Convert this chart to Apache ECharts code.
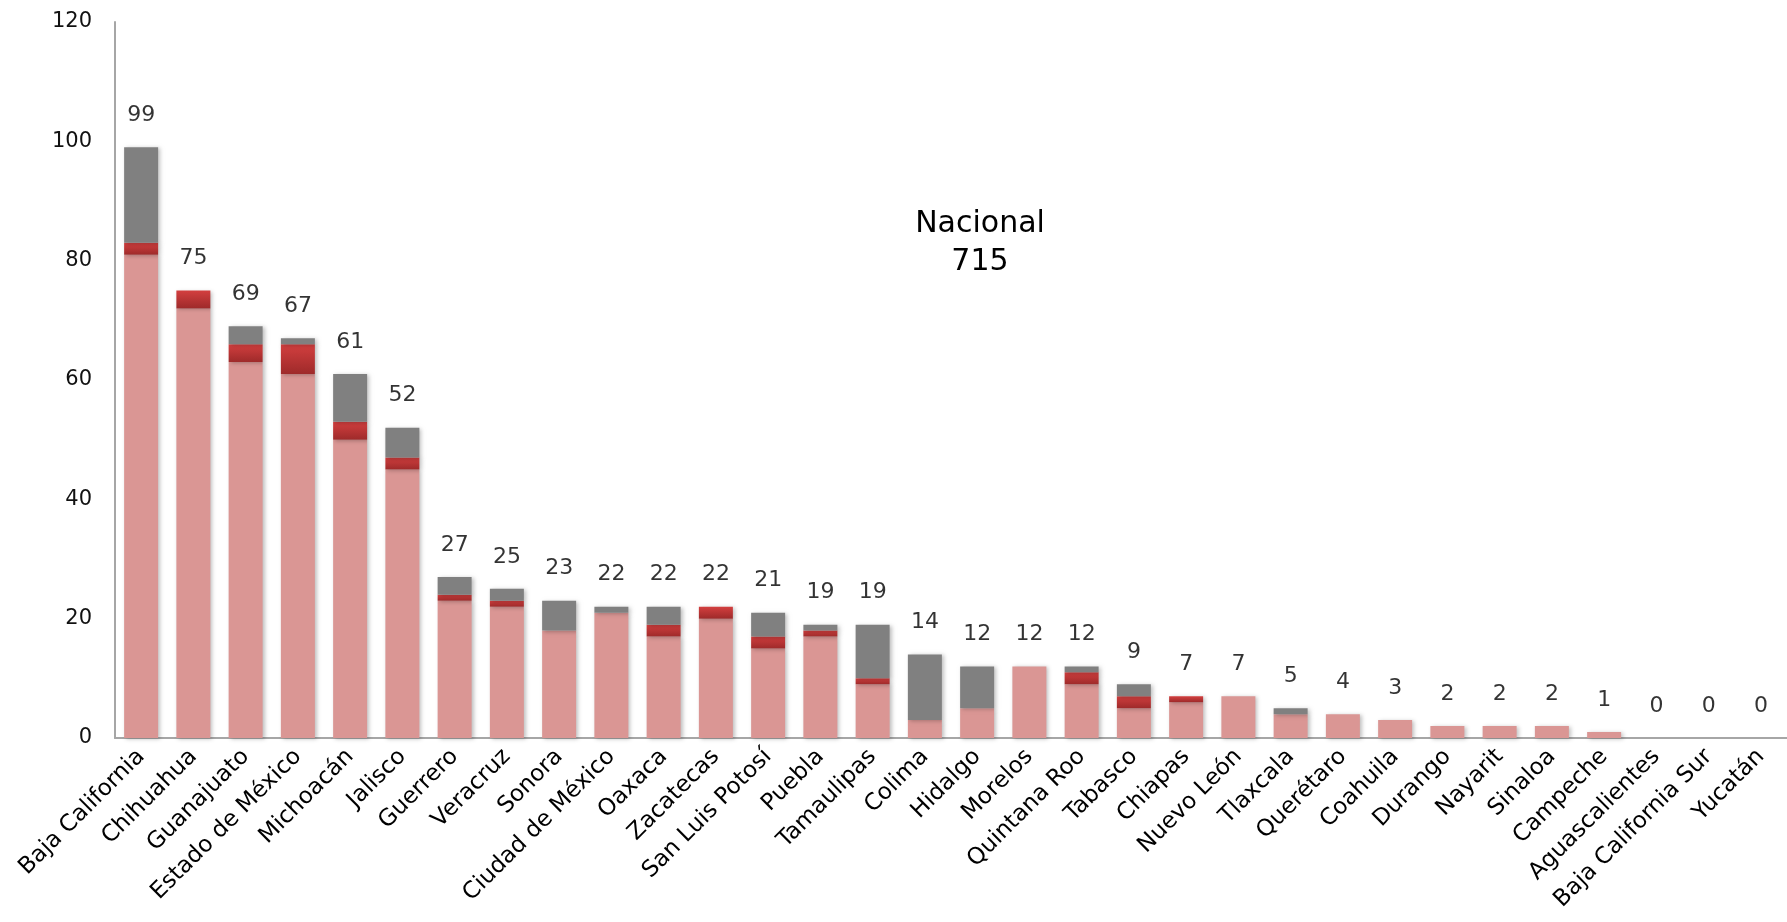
<!DOCTYPE html>
<html><head><meta charset="utf-8">
<script src="https://cdn.jsdelivr.net/npm/echarts@6/dist/echarts.min.js"></script>
<style>html,body{margin:0;padding:0;background:#fff}#c{width:1787px;height:922px}</style>
</head><body><div id="c"></div>
<script>
const categories = ["Baja California","Chihuahua","Guanajuato","Estado de México","Michoacán","Jalisco","Guerrero","Veracruz","Sonora","Ciudad de México","Oaxaca","Zacatecas","San Luis Potosí","Puebla","Tamaulipas","Colima","Hidalgo","Morelos","Quintana Roo","Tabasco","Chiapas","Nuevo León","Tlaxcala","Querétaro","Coahuila","Durango","Nayarit","Sinaloa","Campeche","Aguascalientes","Baja California Sur","Yucatán"];
const pinkValues = [81,72,63,61,50,45,23,22,18,21,17,20,15,17,9,3,5,12,9,5,6,7,4,4,3,2,2,2,1,0,0,0];
const redValues  = [2,3,3,5,3,2,1,1,0,0,2,2,2,1,1,0,0,0,2,2,1,0,0,0,0,0,0,0,0,0,0,0];
const grayValues = [16,0,3,1,8,5,3,2,5,1,3,0,4,1,9,11,7,0,1,2,0,0,1,0,0,0,0,0,0,0,0,0];
const totals     = [99,75,69,67,61,52,27,25,23,22,22,22,21,19,19,14,12,12,12,9,7,7,5,4,3,2,2,2,1,0,0,0];
const nationalTitle = "Nacional";
const nationalTotal = 715;
const yTicks = {min:0, max:120, interval:20};

const FONT = "DejaVu Sans";
const shadow = {shadowBlur:4, shadowOffsetX:2, shadowOffsetY:1, shadowColor:'rgba(0,0,0,0.25)'};
const chart = echarts.init(document.getElementById('c'));
chart.setOption({
  animation:false,
  grid:{left:115, right:-8, top:22, bottom:184, containLabel:false},
  xAxis:{type:'category', data:categories,
    axisLine:{show:true, lineStyle:{color:'#a6a6a6', width:2}},
    axisTick:{show:false},
    axisLabel:{rotate:45, fontFamily:FONT, fontSize:23, color:'#000', margin:15, interval:0}},
  yAxis:{type:'value', min:yTicks.min, max:yTicks.max, interval:yTicks.interval,
    axisLine:{show:true, lineStyle:{color:'#a6a6a6', width:2}},
    axisTick:{show:false}, splitLine:{show:false},
    axisLabel:{fontFamily:FONT, fontSize:21, color:'#111', margin:23}},
  graphic:[{type:'text', x:980, y:205,
    style:{text:nationalTitle+"\n"+nationalTotal, fontFamily:FONT, fontSize:30, lineHeight:38, fill:'#000', textAlign:'center'}}],
  series:[
    {type:'bar', stack:'s', data:pinkValues, barWidth:34, itemStyle:Object.assign({color:'#da9694'}, shadow)},
    {type:'bar', stack:'s', data:redValues, barWidth:34, itemStyle:Object.assign({color:new echarts.graphic.LinearGradient(0,0,0,1,[{offset:0,color:'#d33f3f'},{offset:1,color:'#9e2a2a'}])}, shadow)},
    {type:'bar', stack:'s', data:grayValues, barWidth:34, itemStyle:Object.assign({color:'#808080'}, shadow)},
    {type:'scatter', data:totals, symbolSize:0, silent:true,
      label:{show:true, position:'inside', offset:[0,-32], fontFamily:FONT, fontSize:22, color:'#000', formatter:p=>String(p.value)}}
  ]
});
</script></body></html>
